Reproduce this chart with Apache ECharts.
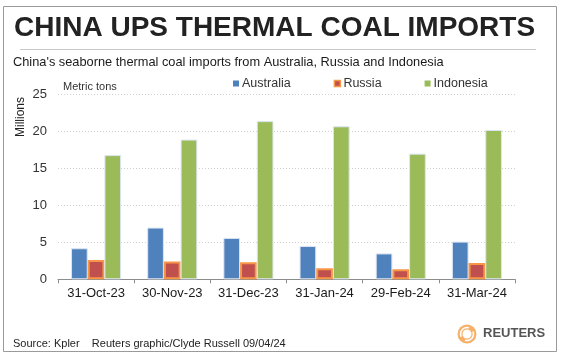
<!DOCTYPE html>
<html>
<head>
<meta charset="utf-8">
<script src="https://cdn.jsdelivr.net/npm/echarts@6/dist/echarts.min.js"></script>
<style>
html,body{margin:0;padding:0;background:#fff;}
#chart{width:561px;height:358px;}
</style>
</head>
<body>
<div id="chart"></div>
<script>
var categories = ['31-Oct-23', '30-Nov-23', '31-Dec-23', '31-Jan-24', '29-Feb-24', '31-Mar-24'];
var australia = [4.2, 7.0, 5.6, 4.5, 3.5, 5.1];
var russia = [2.6, 2.4, 2.3, 1.5, 1.35, 2.2];
var indonesia = [16.8, 18.9, 21.4, 20.7, 17.0, 20.2];

var FONT = '"Liberation Sans", Arial, Helvetica, sans-serif';
var chart = echarts.init(document.getElementById('chart'), null, {renderer: 'canvas'});

chart.setOption({
  animation: false,
  textStyle: {fontFamily: FONT},
  grid: {left: 58, right: 46, top: 94.5, bottom: 78.7, containLabel: false},
  legend: {
    left: 228, top: 72,
    itemWidth: 6, itemHeight: 6, itemGap: 43,
    icon: 'rect',
    textStyle: {fontSize: 12.5, color: '#333', fontFamily: FONT, padding: [0, 0, 0, -2]},
    data: [
      {name: 'Australia', itemStyle: {borderWidth: 0}},
      {name: 'Russia', itemStyle: {borderWidth: 1.5, borderColor: '#F79646'}},
      {name: 'Indonesia', itemStyle: {borderWidth: 0}}
    ]
  },
  xAxis: {
    type: 'category',
    data: categories,
    axisLine: {lineStyle: {color: '#8c8c8c', width: 1}},
    axisTick: {show: true, length: 4, interval: 0, lineStyle: {color: '#8c8c8c'}},
    axisLabel: {fontSize: 13, color: '#1a1a1a', margin: 8, interval: 0, fontFamily: FONT}
  },
  yAxis: {
    type: 'value', min: 0, max: 25, interval: 5,
    axisLine: {show: false},
    axisTick: {show: false},
    axisLabel: {fontSize: 13, color: '#333', margin: 11, fontFamily: FONT},
    splitLine: {lineStyle: {color: '#d0d0d0', type: [1, 2], width: 1}}
  },
  series: [
    {name: 'Australia', type: 'bar', data: australia, barWidth: 16.7, barGap: '0%',
     itemStyle: {color: '#4F81BD', borderColor: '#dce6f2', borderWidth: 1}},
    {name: 'Russia', type: 'bar', data: russia, barWidth: 16.7, barGap: '0%',
     itemStyle: {color: '#C0504D', borderColor: '#F79646', borderWidth: 2}},
    {name: 'Indonesia', type: 'bar', data: indonesia, barWidth: 16.7, barGap: '0%',
     itemStyle: {color: '#9BBB59', borderColor: '#dce6f2', borderWidth: 1}}
  ],
  graphic: [
    {type: 'rect', shape: {x: 3.5, y: 6.5, width: 553, height: 345}, style: {fill: 'none', stroke: '#9a9a9a', lineWidth: 1}, z: -1},
    {type: 'text', left: 14, top: 14, style: {text: 'CHINA UPS THERMAL COAL IMPORTS', font: 'bold 28px ' + FONT, fill: '#222'}},
    {type: 'line', shape: {x1: 20, y1: 49.5, x2: 536, y2: 49.5}, style: {stroke: '#c8c8c8', lineWidth: 1}},
    {type: 'text', left: 13, top: 56, style: {text: "China's seaborne thermal coal imports from Australia, Russia and Indonesia", font: '12.8px ' + FONT, fill: '#1a1a1a'}},
    {type: 'text', left: 63, top: 81, style: {text: 'Metric tons', font: '11px ' + FONT, fill: '#333'}},
    {type: 'text', x: 21, y: 117, rotation: Math.PI / 2, style: {text: 'Millions', font: '12px ' + FONT, fill: '#222', align: 'center', verticalAlign: 'middle'}},
    {type: 'text', left: 13, top: 338, style: {text: 'Source: Kpler    Reuters graphic/Clyde Russell 09/04/24', font: '11px ' + FONT, fill: '#222'}},
    {type: 'circle', shape: {cx: 467, cy: 334, r: 9.5}, style: {fill: '#F6A24E', opacity: 0.85}},
    {type: 'circle', shape: {cx: 467, cy: 334, r: 4.5}, style: {fill: '#fff'}},
    {type: 'arc', shape: {cx: 467, cy: 334, r: 6.5, startAngle: -0.4, endAngle: 1.9}, style: {stroke: '#fff', lineWidth: 1.6, fill: 'none'}},
    {type: 'arc', shape: {cx: 467, cy: 334, r: 6.5, startAngle: 2.7, endAngle: 5.0}, style: {stroke: '#fff', lineWidth: 1.6, fill: 'none'}},
    {type: 'text', left: 483, top: 327, style: {text: 'REUTERS', font: 'bold 13px ' + FONT, fill: '#555'}}
  ]
});
</script>
</body>
</html>
